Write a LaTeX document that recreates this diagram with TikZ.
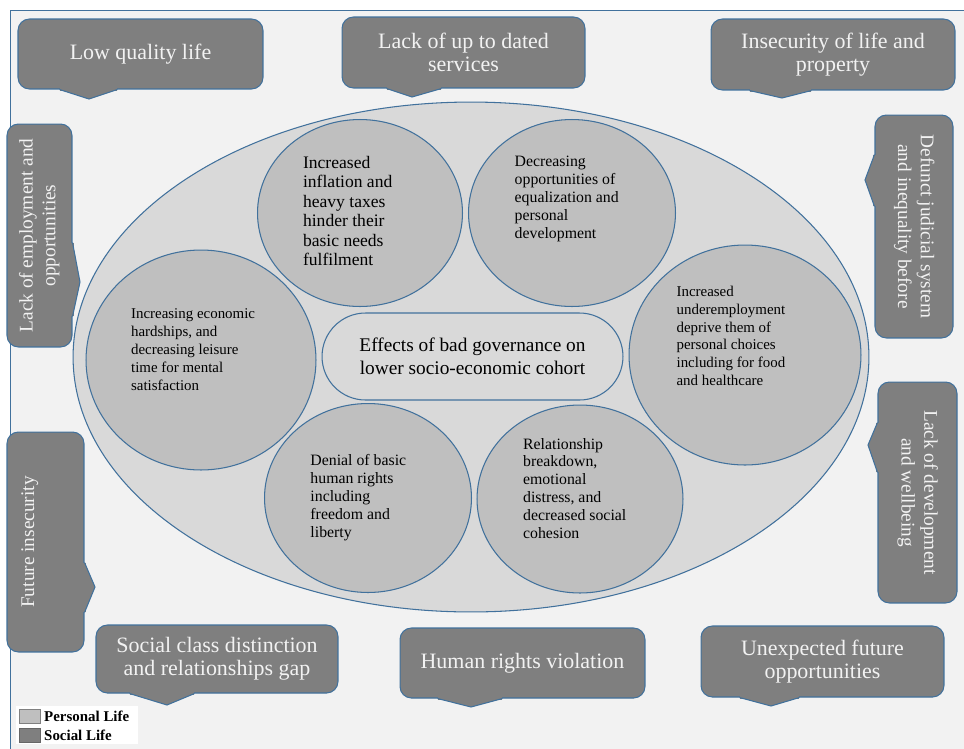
\documentclass[tikz,border=0pt]{standalone}
\usepackage{fontspec}
\setmainfont{Liberation Serif}
\usetikzlibrary{shapes.geometric,calc}
\definecolor{edgeblue}{RGB}{65,113,156}
\definecolor{socialgray}{RGB}{127,127,127}
\definecolor{personalgray}{RGB}{191,191,191}
\definecolor{cohortgray}{RGB}{217,217,217}
\definecolor{pagegray}{RGB}{242,242,242}
\tikzset{
  issue/.style={rectangle, rounded corners=6.5pt, fill=socialgray, draw=edgeblue,
    line width=0.6pt, text=pagegray, align=center, inner sep=0pt,
    font=\fontsize{12.5}{13.2}\selectfont},
  effect/.style={ellipse, fill=personalgray, draw=edgeblue, line width=0.6pt,
    inner sep=0pt, font=\fontsize{9}{10.2}\selectfont},
  keybox/.style={rectangle, minimum width=0.42cm, minimum height=0.28cm, inner sep=0pt},
  keytext/.style={anchor=west, inner sep=0pt, font=\bfseries\fontsize{8.5}{10}\selectfont}
}
% pointer of a callout: base point, tip, base point
\newcommand\tipto[3]{%
  \fill[socialgray] #1 -- #2 -- #3 -- cycle;
  \draw[socialgray, line width=1.4pt, shorten <=0.3pt, shorten >=0.3pt] #1 -- #3;
  \draw[edgeblue, line width=0.6pt] #1 -- #2 -- #3;}
% text of an effect: raise, extra space on the right, lines
\newcommand\effectlines[3]{\raisebox{#1}[\height][\depth]{\begin{tabular}{@{}l@{}}#3\end{tabular}}\kern#2}
\begin{document}
\begin{tikzpicture}[x=0.02cm,y=-0.02cm]
\useasboundingbox (0,0) rectangle (964,748);
\draw[edgeblue, fill=pagegray] (10,10) rectangle (990,770);
% social life: callouts round the border
\node[issue, minimum width=4.9cm, minimum height=1.4cm] (lowq) at (140.5,54) {Low quality life};
\node[issue, minimum width=4.86cm, minimum height=1.42cm] (services) at (463.5,52.5) {Lack of up to dated\\services};
\node[issue, minimum width=4.88cm, minimum height=1.42cm] (insecurity) at (833,54.5) {Insecurity of life and\\property};
\node[issue, minimum width=1.3cm, minimum height=4.46cm, font=\fontsize{11}{13}\selectfont] (employment) at (39.5,235.5)
  {\rotatebox{90}{\begin{tabular}{@{}c@{}}Lack of employment and\\opportunities\end{tabular}}};
\node[issue, minimum width=1.56cm, minimum height=4.46cm, font=\fontsize{11}{13}\selectfont] (judicial) at (914,226.5)
  {\rotatebox{-90}{\begin{tabular}{@{}c@{}}Defunct judicial system\\and inequality before\end{tabular}}};
\node[issue, minimum width=1.54cm, minimum height=4.4cm, font=\fontsize{11}{13}\selectfont] (future) at (45.5,542)
  {\rotatebox{90}{Future insecurity}\kern18pt};
\node[issue, minimum width=1.58cm, minimum height=4.42cm, font=\fontsize{11}{13}\selectfont] (development) at (917.5,492.5)
  {\rotatebox{-90}{\begin{tabular}{@{}c@{}}Lack of development\\and wellbeing\end{tabular}}};
\node[issue, minimum width=4.84cm, minimum height=1.36cm] (socialgap) at (217,659) {Social class distinction\\and relationships gap};
\node[issue, minimum width=4.9cm, minimum height=1.4cm] (rights) at (522.5,663) {Human rights violation};
\node[issue, minimum width=4.86cm, minimum height=1.42cm] (unexpected) at (822.5,661.5) {Unexpected future\\opportunities};
\tipto{($(lowq.south west)+(42,0)$)}{(89,99)}{($(lowq.south west)+(100,0)$)}
\tipto{($(services.south west)+(45,0)$)}{(412,97)}{($(services.south west)+(100,0)$)}
\tipto{($(insecurity.south west)+(39,0)$)}{(782,98)}{($(insecurity.south west)+(101,0)$)}
\tipto{($(employment.north east)+(0,119)$)}{(80,282)}{($(employment.north east)+(0,193)$)}
\tipto{($(judicial.north west)+(0,40)$)}{(865,180)}{($(judicial.north west)+(0,92)$)}
\tipto{($(future.north east)+(0,131)$)}{(95,587)}{($(future.north east)+(0,181)$)}
\tipto{($(development.north west)+(0,41)$)}{(868,445)}{($(development.north west)+(0,91)$)}
\tipto{($(socialgap.south west)+(34,0)$)}{(167,705)}{($(socialgap.south west)+(99,0)$)}
\tipto{($(rights.south west)+(38,0)$)}{(471,707)}{($(rights.south west)+(103,0)$)}
\tipto{($(unexpected.south west)+(39,0)$)}{(771,706)}{($(unexpected.south west)+(99,0)$)}
% personal life: the cohort ellipse
\node[ellipse, fill=cohortgray, draw=edgeblue, line width=0.6pt, minimum width=15.92cm, minimum height=10.2cm] (cohort) at (471,357) {};
\node[effect, minimum width=4.1cm, minimum height=3.74cm, font=\fontsize{10}{11.1}\selectfont] (inflation) at (360,213)
  {\effectlines{0pt}{14pt}{Increased\\inflation and\\heavy taxes\\hinder their\\basic needs\\fulfilment}};
\node[effect, minimum width=4.14cm, minimum height=3.74cm] (equalization) at (572,213)
  {\effectlines{8pt}{6pt}{Decreasing\\opportunities of\\equalization and\\personal\\development}};
\node[effect, minimum width=4.6cm, minimum height=4.4cm, font=\fontsize{8.5}{10.2}\selectfont] (hardship) at (201,360)
  {\effectlines{5pt}{9pt}{Increasing economic\\hardships, and\\decreasing leisure\\time for mental\\satisfaction}};
\node[effect, minimum width=4.64cm, minimum height=4.4cm, font=\fontsize{8.5}{10.2}\selectfont] (underemp) at (745,355)
  {\effectlines{10pt}{16pt}{Increased\\underemployment\\deprive them of\\personal choices\\including for food\\and healthcare}};
\node[effect, minimum width=4.14cm, minimum height=3.78cm] (denial) at (368,498)
  {\effectlines{0pt}{11pt}{Denial of basic\\human rights\\including\\freedom and\\liberty}};
\node[effect, minimum width=4.12cm, minimum height=3.76cm] (breakdown) at (580,499)
  {\effectlines{5pt}{6pt}{Relationship\\breakdown,\\emotional\\distress, and\\decreased social\\cohesion}};
\node[rectangle, rounded corners=0.87cm, fill=cohortgray, draw=edgeblue, line width=0.6pt, minimum width=6.02cm, minimum height=1.74cm,
  align=center, font=\fontsize{11}{13}\selectfont] (effects) at (472.5,356.5) {Effects of bad governance on\\lower socio-economic cohort};
% legend
\fill[white] (16,706) rectangle (138,744);
\node[keybox, fill=personalgray, draw=gray] (personalkey) at (29.5,716) {};
\node[keytext] (personaltext) at ([xshift=2pt]personalkey.east) {Personal Life};
\node[keybox, fill=socialgray, draw=socialgray!80!black] (socialkey) at (29.5,735.5) {};
\node[keytext] (socialtext) at ([xshift=2pt]socialkey.east) {Social Life};
\end{tikzpicture}
\end{document}
